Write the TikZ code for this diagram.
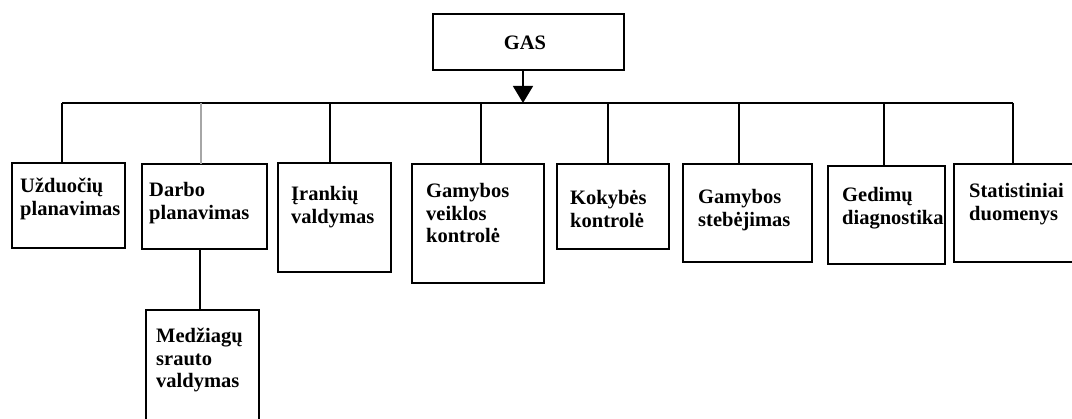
\documentclass[tikz,border=0pt]{standalone}
\usepackage{fontspec}
\setmainfont{Liberation Serif}
\usetikzlibrary{arrows.meta}
\begin{document}
\begin{tikzpicture}[x=1pt,y=-1pt,
  box/.style={draw=black, line width=1.5pt, fill=white, inner sep=0pt, outer sep=0pt, anchor=north west},
  lbl/.style={anchor=base west, inner sep=0pt, font=\fontsize{20.5}{22.5}\selectfont\bfseries},
  wire/.style={draw=black, line width=1.5pt},
  graywire/.style={draw=black!35, line width=1.5pt}]
\useasboundingbox (0,0) rectangle (1072,419);
% top box
\node[box, minimum width=191pt, minimum height=56pt] (gas) at (433,14) {};
\node[inner sep=0pt, font=\fontsize{20.5}{22.5}\selectfont\bfseries, anchor=base] (gast) at (525,50) {GAS};
% bus
\coordinate (busl) at (62,103);
\coordinate (busr) at (1013,103);
\coordinate (arr) at (523,103);
\draw[wire] (busl) -- (busr);
\draw[wire, -{Triangle[width=20pt,length=17pt]}] (gas.south -| arr) -- (arr);
% boxes
\node[box, minimum width=113pt, minimum height=85pt] (b1) at (12,163) {};
\node[box, minimum width=125pt, minimum height=85pt] (b2) at (142,164) {};
\node[box, minimum width=113pt, minimum height=109pt] (b3) at (278,163) {};
\node[box, minimum width=132pt, minimum height=119pt] (b4) at (412,164) {};
\node[box, minimum width=112pt, minimum height=85pt] (b5) at (557,164) {};
\node[box, minimum width=129pt, minimum height=98pt] (b6) at (683,164) {};
\node[box, minimum width=117pt, minimum height=98pt] (b7) at (828,166) {};
\node[box, minimum width=140pt, minimum height=98pt] (b8) at (954,164) {};
\node[box, minimum width=113pt, minimum height=130pt] (b9) at (146,310) {};
% taps
\coordinate (t1) at (62,103);
\coordinate (t2) at (201,103);
\coordinate (t3) at (330,103);
\coordinate (t4) at (481,103);
\coordinate (t5) at (608,103);
\coordinate (t6) at (739,103);
\coordinate (t7) at (884,103);
\coordinate (t8) at (1013,103);
\coordinate (t9) at (200,249);
\draw[wire] (t1) -- (t1 |- b1.north);
\draw[graywire] (t2) -- (t2 |- b2.north);
\draw[wire] (t3) -- (t3 |- b3.north);
\draw[wire] (t4) -- (t4 |- b4.north);
\draw[wire] (t5) -- (t5 |- b5.north);
\draw[wire] (t6) -- (t6 |- b6.north);
\draw[wire] (t7) -- (t7 |- b7.north);
\draw[wire] (t8) -- (t8 |- b8.north);
\draw[wire] (t9 |- b2.south) -- (t9 |- b9.north);
% labels
\node[lbl] (l1) at (20,193) {\begin{tabular}[t]{@{}l@{}}Užduočių\\planavimas\end{tabular}};
\node[lbl] (l2) at (149,197) {\begin{tabular}[t]{@{}l@{}}Darbo\\planavimas\end{tabular}};
\node[lbl] (l3) at (291,201) {\begin{tabular}[t]{@{}l@{}}Įrankių\\valdymas\end{tabular}};
\node[lbl] (l4) at (426,198) {\begin{tabular}[t]{@{}l@{}}Gamybos\\veiklos\\kontrolė\end{tabular}};
\node[lbl] (l5) at (570,205) {\begin{tabular}[t]{@{}l@{}}Kokybės\\kontrolė\end{tabular}};
\node[lbl] (l6) at (698,204) {\begin{tabular}[t]{@{}l@{}}Gamybos\\stebėjimas\end{tabular}};
\node[lbl] (l7) at (842,202) {\begin{tabular}[t]{@{}l@{}}Gedimų\\diagnostika\end{tabular}};
\node[lbl] (l8) at (969,198) {\begin{tabular}[t]{@{}l@{}}Statistiniai\\duomenys\end{tabular}};
\node[lbl] (l9) at (156,343) {\begin{tabular}[t]{@{}l@{}}Medžiagų\\srauto\\valdymas\end{tabular}};
\end{tikzpicture}
\end{document}
